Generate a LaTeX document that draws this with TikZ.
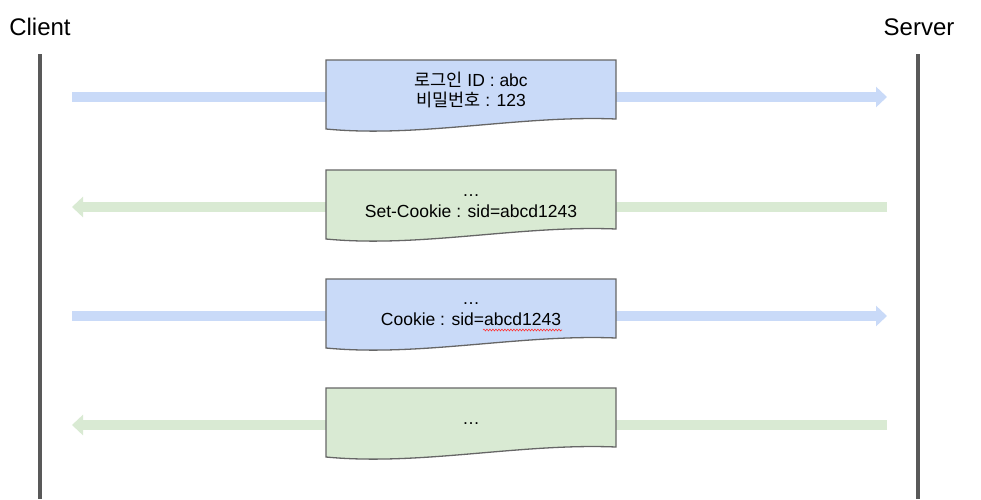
\documentclass[tikz,border=0pt]{standalone}
\usepackage{fontspec}
\setmainfont{Liberation Sans}
\newfontfamily\kr{Noto Sans CJK KR}
\usetikzlibrary{arrows.meta,decorations.pathmorphing}
\definecolor{reqblue}{HTML}{C9DAF8}
\definecolor{resgreen}{HTML}{D9EAD3}
\definecolor{lifegray}{HTML}{595959}
\definecolor{boxgray}{HTML}{666666}
\tikzset{
  lifeline/.style={line width=4pt, lifegray},
  actor/.style={font=\fontsize{24}{28}\selectfont, anchor=base, inner sep=0pt},
  msgarrow/.style={line width=10pt, -{Triangle[length=11pt,width=20pt]}},
  reqarrow/.style={msgarrow, reqblue},
  resarrow/.style={msgarrow, resgreen},
  msgtext/.style={font=\fontsize{17.5}{21}\selectfont, anchor=base, inner sep=0pt},
  docbox/.style={draw=boxgray, line width=1.3pt, line join=miter},
}
\newcommand{\docshape}[3]{% color, top y
  \path[docbox, fill=#1] (326,#2) -- (616,#2) -- (616,#2+59)
    .. controls (520,#2+55) and (420,#2+78) .. (326,#2+69) -- cycle;
}
\begin{document}
\begin{tikzpicture}[x=1pt,y=-1pt]
\useasboundingbox (0,0) rectangle (981,499);
% actors
\node[actor] (client) at (40,35) {Client};
\node[actor] (server) at (919,35) {Server};
\coordinate (ctop) at (40,54);
\coordinate (cbot) at (40,499);
\coordinate (stop) at (918,54);
\coordinate (sbot) at (918,499);
\draw[lifeline] (ctop) -- (cbot);
\draw[lifeline] (stop) -- (sbot);
% message end points
\coordinate (c1) at (72,97);   \coordinate (s1) at (887,97);
\coordinate (c2) at (72,207);  \coordinate (s2) at (887,207);
\coordinate (c3) at (72,316);  \coordinate (s3) at (887,316);
\coordinate (c4) at (72,425);  \coordinate (s4) at (887,425);
\draw[reqarrow] (c1) -- (s1);
\draw[resarrow] (s2) -- (c2);
\draw[reqarrow] (c3) -- (s3);
\draw[resarrow] (s4) -- (c4);
% boxes
\docshape{reqblue}{60}{}
\docshape{resgreen}{170}{}
\docshape{reqblue}{279}{}
\docshape{resgreen}{388}{}
% texts
\node[msgtext] (m1a) at (471,86) {{\kr 로그인} ID : abc};
\node[msgtext] (m1b) at (471,106) {{\kr 비밀번호} : 123};
\node[msgtext] (m2a) at (471,196) {…};
\node[msgtext] (m2b) at (471,217) {Set-Cookie : sid=abcd1243};
\node[msgtext] (m3a) at (471,304) {…};
\node[msgtext] (m3b) at (471,325) {Cookie : sid=abcd1243};
\node[msgtext] (m4a) at (471,424) {…};
\draw[red!80, line width=0.6pt, decorate, decoration={snake, amplitude=0.9pt, segment length=3pt}]
  (483,330) -- (562,330);
\end{tikzpicture}
\end{document}
